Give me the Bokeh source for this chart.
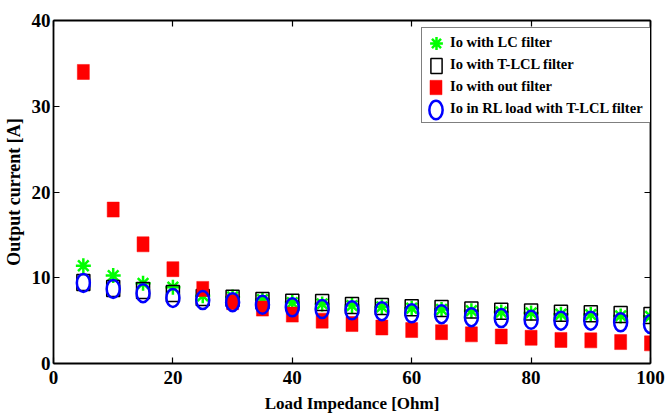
from bokeh.plotting import figure
from bokeh.models import (ColumnDataSource, Range1d, LinearAxis, FixedTicker,
                          Legend, LegendItem)
from bokeh.embed import file_html
from bokeh.resources import INLINE

# Load impedance sweep [Ohm]
load_ohm = [5, 10, 15, 20, 25, 30, 35, 40, 45, 50,
            55, 60, 65, 70, 75, 80, 85, 90, 95, 100]

# Output current [A] for each configuration
io_lc = [11.4, 10.25, 9.35, 8.9, 7.9, 7.75, 7.45, 7.1, 6.95, 6.75,
         6.6, 6.45, 6.3, 6.15, 6.0, 5.9, 5.75, 5.7, 5.55, 5.5]
io_tlcl = [9.45, 8.75, 8.5, 8.15, 7.7, 7.6, 7.35, 7.15, 7.1, 6.75,
           6.65, 6.5, 6.4, 6.25, 6.1, 6.0, 5.85, 5.8, 5.7, 5.6]
io_nofilter = [34.0, 17.95, 13.9, 11.0, 8.7, 7.15, 6.4, 5.7, 5.0, 4.6,
               4.2, 3.9, 3.65, 3.4, 3.15, 3.0, 2.75, 2.7, 2.5, 2.35]
io_rl_tlcl = [9.4, 8.7, 8.2, 7.65, 7.4, 7.15, 6.85, 6.55, 6.35, 6.2,
              6.1, 5.85, 5.75, 5.4, 5.3, 5.1, 5.0, 5.0, 4.8, 4.6]

series_labels = ["Io with LC filter", "Io with T-LCL filter",
                 "Io with out filter", "Io in RL load with T-LCL filter"]

x_ticks = [0, 20, 40, 60, 80, 100]
y_ticks = [0, 10, 20, 30, 40]

FONT = "Liberation Serif"

src = ColumnDataSource(dict(x=load_ohm, lc=io_lc, tlcl=io_tlcl,
                            nof=io_nofilter, rl=io_rl_tlcl))

p = figure(width=666, height=419, output_backend="svg", toolbar_location=None,
           x_range=Range1d(0, 100), y_range=Range1d(0, 40),
           min_border_left=50, min_border_right=16,
           min_border_top=20, min_border_bottom=56,
           x_axis_location=None, y_axis_location=None)
p.xgrid.visible = False
p.ygrid.visible = False
p.outline_line_color = None
p.background_fill_color = "white"
p.border_fill_color = "white"


def style_axis(ax, ticks, show_labels, standoff=5):
    ax.ticker = FixedTicker(ticks=ticks)
    ax.axis_line_color = "black"
    ax.axis_line_width = 1.8
    ax.major_tick_line_color = "black"
    ax.major_tick_line_width = 1.2
    ax.major_tick_in = 6
    ax.major_tick_out = 0
    ax.minor_tick_line_color = None
    ax.major_label_text_font = FONT
    ax.major_label_text_font_style = "bold"
    ax.major_label_text_font_size = "19px"
    ax.major_label_text_color = "black"
    ax.major_label_standoff = standoff
    ax.axis_label_text_font = FONT
    ax.axis_label_text_font_style = "bold"
    ax.axis_label_text_color = "black"
    if not show_labels:
        ax.major_label_overrides = {t: "" for t in ticks}


xb = LinearAxis(axis_label="Load Impedance [Ohm]")
style_axis(xb, x_ticks, True, standoff=7)
xb.axis_label_text_font_size = "17px"
xb.axis_label_standoff = 7
p.add_layout(xb, "below")

yl = LinearAxis(axis_label="Output current [A]")
style_axis(yl, y_ticks, True, standoff=3)
yl.axis_label_text_font_size = "18px"
yl.axis_label_standoff = 5
p.add_layout(yl, "left")

xt = LinearAxis()
style_axis(xt, x_ticks, False)
p.add_layout(xt, "above")

yr = LinearAxis()
style_axis(yr, y_ticks, False)
p.add_layout(yr, "right")

# Series, drawn in this order so the circles sit on top
r_lc = p.scatter("x", "lc", source=src, marker="asterisk", size=15,
                 line_color="#00ff00", line_width=2.5)
r_tlcl = p.rect("x", "tlcl", source=src, width=13, height=16,
                width_units="screen", height_units="screen",
                fill_color=None, line_color="black", line_width=1.5)
r_nof = p.rect("x", "nof", source=src, width=12, height=15,
               width_units="screen", height_units="screen",
               fill_color="#ff0000", line_color="#ff0000", line_width=0.5)
r_rl = p.ellipse("x", "rl", source=src, width=13, height=18,
                 width_units="screen", height_units="screen",
                 fill_color=None, line_color="#0000ff", line_width=2.5)

# Legend frame and texts
legend = Legend(items=[LegendItem(label=t, renderers=[]) for t in series_labels],
                location=(368, 240), glyph_width=16, glyph_height=20,
                label_height=20, label_width=197,
                spacing=2, padding=4, label_standoff=8,
                label_text_font=FONT, label_text_font_style="bold",
                label_text_font_size="14.5px", label_text_color="black",
                border_line_color="black", border_line_width=1.5,
                background_fill_color="white", background_fill_alpha=1.0)
p.add_layout(legend, "center")


# One swatch per legend row, each sized for its own marker
def swatch(renderer, loc, gw, gh):
    key = Legend(items=[LegendItem(label=" ", renderers=[renderer])],
                 location=loc, glyph_width=gw, glyph_height=gh,
                 label_height=gh, label_width=1, padding=0, spacing=0,
                 margin=0, label_standoff=0, label_text_alpha=0,
                 border_line_color=None, background_fill_alpha=0)
    p.add_layout(key, "center")


swatch(r_lc, (367, 304), 32, 32)
swatch(r_tlcl, (376, 288), 14, 19)
swatch(r_nof, (375, 267), 15, 18)
swatch(r_rl, (371, 242), 23, 23)

open("out.html", "w").write(file_html(p, INLINE))
